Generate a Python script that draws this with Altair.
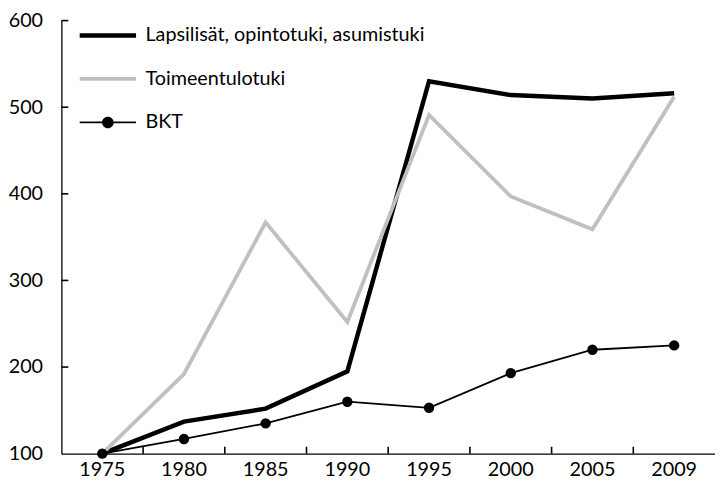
import altair as alt
import pandas as pd

years = ["1975", "1980", "1985", "1990", "1995", "2000", "2005", "2009"]
lapsilisat = [100, 137, 152, 195, 530, 514, 510, 516]
toimeentulotuki = [100, 192, 367, 252, 491, 397, 359, 512]
bkt = [100, 117, 135, 160, 153, 193, 220, 225]
series_names = ["Lapsilisät, opintotuki, asumistuki", "Toimeentulotuki", "BKT"]
series_colors = ["#000000", "#c0c0c0", "#000000"]
series_widths = [4.5, 3.8, 1.8]
y_ticks = [100, 200, 300, 400, 500, 600]

# legend symbols (unit = half of sqrt(symbolSize))
legend_shapes = [
    "M-3,-0.237H3V0.237H-3Z",
    "M-3,-0.2H3V0.2H-3Z",
    "M-3,-0.095H3V0.095H-3Z M-0.616,0A0.616,0.616,0,1,1,0.616,0A0.616,0.616,0,1,1,-0.616,0Z",
]

rows = []
for name, vals in zip(series_names, [lapsilisat, toimeentulotuki, bkt]):
    for yr, v in zip(years, vals):
        rows.append({"year": yr, "value": v, "series": name})
df = pd.DataFrame(rows)
ytick_df = pd.DataFrame({"value": y_ticks[1:]})
xtick_df = pd.DataFrame({"year": years[:-1]})

W, H = 661, 438
FONT = "Lato"

xscale = alt.Scale(type="band", domain=years, paddingInner=0, paddingOuter=0)
yscale = alt.Scale(domain=[100, 600], nice=False, zero=False)
cscale = alt.Scale(domain=series_names, range=series_colors)
xaxis = alt.Axis(title=None, labelAngle=0)
yaxis = alt.Axis(title=None, values=y_ticks)

legend = alt.Legend(
    title=None,
    orient="none",
    legendX=37,
    legendY=5,
    symbolSize=361,
    symbolOpacity=1,
    symbolStrokeWidth=0,
    labelFont=FONT,
    labelFontSize=20,
    labelColor="#000000",
    labelOffset=28,
    labelLimit=500,
    rowPadding=24,
)

layers = []
for name, col, wd in zip(series_names, series_colors, series_widths):
    layers.append(
        alt.Chart(df[df["series"] == name]).mark_line(color=col, strokeWidth=wd).encode(
            x=alt.X("year:N", scale=xscale, axis=xaxis),
            y=alt.Y("value:Q", scale=yscale, axis=yaxis),
        )
    )

points = alt.Chart(df[df["series"] == "BKT"]).mark_point(
    filled=True, size=110, color="#000000", opacity=1
).encode(
    x=alt.X("year:N", scale=xscale, axis=xaxis),
    y=alt.Y("value:Q", scale=yscale, axis=yaxis),
)

legend_layer = alt.Chart(df).mark_point(filled=True, opacity=0).encode(
    x=alt.X("year:N", scale=xscale, axis=xaxis),
    y=alt.Y("value:Q", scale=yscale, axis=yaxis),
    color=alt.Color("series:N", scale=cscale, legend=legend),
    shape=alt.Shape("series:N", scale=alt.Scale(domain=series_names, range=legend_shapes), legend=legend),
)

yticks = alt.Chart(ytick_df).mark_rule(stroke="#000000", strokeWidth=1.6, opacity=1).encode(
    y=alt.Y("value:Q", scale=yscale, axis=yaxis),
    x=alt.value(0),
    x2=alt.value(7),
)

xticks = alt.Chart(xtick_df).mark_rule(stroke="#000000", strokeWidth=1.6, opacity=1).encode(
    x=alt.X("year:N", scale=xscale, axis=xaxis, bandPosition=1),
    y=alt.value(H - 7),
    y2=alt.value(H),
)

chart = alt.layer(*layers, points, yticks, xticks, legend_layer).properties(
    width=W,
    height=H,
    padding={"left": 54, "top": 10, "right": 0, "bottom": 34},
    autosize=alt.AutoSizeParams(type="none"),
).configure_view(
    strokeWidth=0
).configure_axis(
    grid=False,
    ticks=False,
    domainColor="#000000",
    domainWidth=1.3,
    labelFont=FONT,
    labelFontSize=20,
    labelColor="#000000",
).configure_axisY(
    labelPadding=19,
).configure_axisX(
    labelPadding=6,
)

chart.save("out.html", embed_options={"renderer": "svg", "actions": False})
